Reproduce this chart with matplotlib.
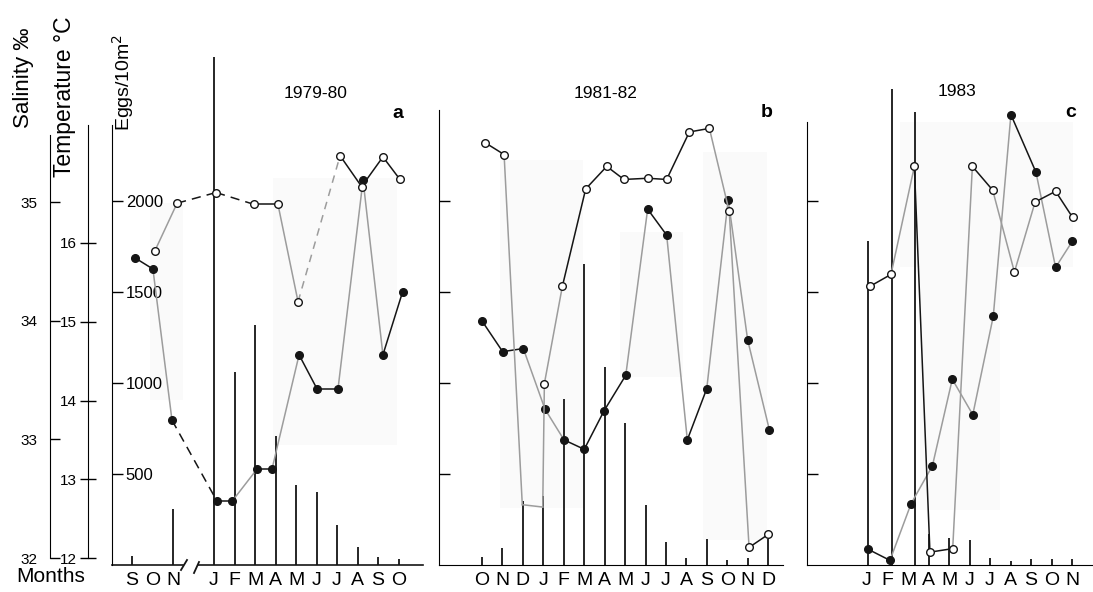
import matplotlib
matplotlib.use("Agg")
import matplotlib.pyplot as plt
from matplotlib.lines import Line2D
from matplotlib.patches import Rectangle

plt.rcParams["font.family"] = ["Liberation Sans", "DejaVu Sans"]

# ------------------------------------------------------------------ data
# a: 1979-80, month index 0 = Sep 1979 ... 13 = Oct 1980 (3 = Dec, axis break)
a_tick_x = [0, 1, 2, 4, 5, 6, 7, 8, 9, 10, 11, 12, 13]
a_months = ["S", "O", "N", "J", "F", "M", "A", "M", "J", "J", "A", "S", "O"]
a_egg_x = [0, 2, 4, 5, 6, 7, 8, 9, 10, 11, 12, 13]
a_eggs = [50, 308, 2790, 1060, 1320, 710, 440, 400, 220, 100, 45, 35]
a_temp_x = [0.15, 1.02, 1.95, 4.15, 4.88, 6.1, 6.83, 8.15, 9.02, 10.05,
            11.27, 12.24, 13.2]
a_temp = [15.81, 15.67, 13.75, 12.72, 12.72, 13.13, 13.13, 14.58, 14.15,
          14.15, 16.8, 14.58, 15.38]
a_temp_seg = "kgdkgkgkkggk"
a_sal_x = [1.12, 2.2, 4.1, 5.95, 7.12, 8.1, 10.15, 11.2, 12.24, 13.07]
a_sal = [34.59, 34.99, 35.08, 34.98, 34.98, 34.16, 35.39, 35.13, 35.38, 35.19]
a_sal_seg = "gddkgekkk"

# b: 1981-82, 0 = Oct 1981 ... 14 = Dec 1982
b_months = ["O", "N", "D", "J", "F", "M", "A", "M", "J", "J", "A", "S",
            "O", "N", "D"]
b_eggs = [44, 93, 352, 380, 913, 1654, 1088, 780, 330, 126, 38, 143, 27,
          40, 145]
b_temp_x = [0, 1.01, 2.02, 3.08, 4.01, 5.0, 5.97, 7.03, 8.1, 9.03, 10.04,
            10.99, 12.04, 12.99, 14.05]
b_temp = [15.01, 14.62, 14.66, 13.89, 13.50, 13.38, 13.87, 14.32, 16.43,
          16.10, 13.50, 14.15, 16.55, 14.77, 13.63]
b_temp_seg = "kkggkkkgkgkggg"
b_sal_x = [0.15, 1.08, 1.97, 2.97, 3.05, 3.93, 5.07, 6.1, 6.94, 8.1, 9.03,
           10.14, 11.12, 12.09, 13.06, 14.0]
b_sal = [35.50, 35.40, 32.45, 32.43, 33.47, 34.29, 35.11, 35.30, 35.19,
         35.20, 35.19, 35.59, 35.62, 34.92, 32.09, 32.20]
b_sal_seg = "kggggkkkkkkkggk"
b_sal_hidden = [2, 3]

# c: 1983, 0 = Jan ... 10 = Nov
c_months = ["J", "F", "M", "A", "M", "J", "J", "A", "S", "O", "N"]
c_egg_x = [0.05, 1.22, 2.34, 3, 4, 5, 6, 7, 8, 9, 10]
c_eggs = [1780, 2615, 2490, 170, 148, 137, 40, 22, 33, 33, 33]
c_temp_x = [0.06, 1.12, 2.15, 3.19, 4.16, 5.16, 6.16, 7.02, 8.24, 9.2, 10.01]
c_temp = [12.11, 11.97, 12.69, 13.17, 14.27, 13.82, 15.07, 17.63, 16.90,
          15.69, 16.02]
c_temp_seg = "kggggggkgg"
c_sal_x = [0.15, 1.17, 2.31, 3.07, 4.18, 5.14, 6.13, 7.19, 8.2, 9.2, 10.03]
c_sal = [34.29, 34.39, 35.30, 32.05, 32.08, 35.30, 35.10, 34.41, 35.0,
         35.09, 34.87]
c_sal_seg = "kgkkgkggkk"

# ---------------------------------------------------------------- layout
W, H = 1093, 592
fig = plt.figure(figsize=(W / 100, H / 100), dpi=100)


def fx(x):
    return x / W


def fy(y):
    return 1 - y / H


Y_TOP, Y_BOT = 50, 565
EGG_PX = 0.182


def t_of(y):
    return 16 + (243 - y) / 78.75


def s_of(y):
    return 35 + (202 - y) / 118.7


EGG_LIM = (0, (Y_BOT - Y_TOP) / EGG_PX)
T_LIM = (t_of(Y_BOT), t_of(Y_TOP))
S_LIM = (s_of(Y_BOT), s_of(Y_TOP))
BLACK, GREY = "#151515", "#9c9c9c"
SEG = {"k": (BLACK, "-"), "g": (GREY, "-"),
       "d": (BLACK, (0, (6, 4))), "e": (GREY, (0, (5, 4)))}


def axes_px(x0, x1):
    ax = fig.add_axes([fx(x0), fy(Y_BOT), fx(x1 - x0), (Y_BOT - Y_TOP) / H])
    ax.patch.set_visible(False)
    return ax


def box(x0, y0, x1, y1):
    fig.add_artist(Rectangle((fx(x0), fy(y1)), fx(x1 - x0), (y1 - y0) / H,
                             transform=fig.transFigure, color="#fafafa",
                             lw=0, zorder=-5))


def series(ax, xs, ys, seg, filled, hidden=()):
    for i, c in enumerate(seg):
        col, ls = SEG[c]
        ax.plot(xs[i:i + 2], ys[i:i + 2], color=col, ls=ls, lw=1.1, zorder=2)
    keep = [i for i in range(len(xs)) if i not in hidden]
    ax.plot([xs[i] for i in keep], [ys[i] for i in keep], "o", ls="none",
            ms=5.5, mfc=BLACK if filled else "white", mec=BLACK, mew=1.0,
            zorder=3)


def panel(x0, x1, xlim, top, ticks, labels, egg_x, eggs, temp, sal):
    ax = axes_px(x0, x1)
    ax.set_xlim(xlim)
    ax.set_ylim(EGG_LIM)
    ax.spines[["top", "right"]].set_visible(False)
    ax.spines["left"].set_bounds(0, (Y_BOT - top) / EGG_PX)
    ax.set_yticks([500, 1000, 1500, 2000])
    ax.tick_params(axis="y", direction="in", length=8, width=1,
                   labelleft=False)
    ax.set_xticks(ticks)
    ax.set_xticklabels(labels, fontsize=14)
    ax.tick_params(axis="x", length=0, pad=5)
    ax.vlines(egg_x, 0, eggs, colors=BLACK, lw=1.3, zorder=1)
    at = ax.twinx()
    at.set_ylim(T_LIM)
    at.axis("off")
    series(at, *temp, filled=True)
    asl = ax.twinx()
    asl.set_ylim(S_LIM)
    asl.axis("off")
    series(asl, *sal[:3], filled=False, hidden=sal[3] if len(sal) > 3 else ())
    return ax


# faint grey patches of the scanned original
for r in [(150, 203, 183, 400), (273, 178, 397, 445), (500, 160, 583, 508),
          (620, 232, 683, 377), (703, 152, 767, 540), (900, 122, 1073, 267),
          (920, 267, 1000, 510)]:
    box(*r)

# panel a
ax_a = panel(112, 423, (-0.976, 14.195), 125, a_tick_x, a_months,
             a_egg_x, a_eggs, (a_temp_x, a_temp, a_temp_seg),
             (a_sal_x, a_sal, a_sal_seg))
ax_a.spines["bottom"].set_visible(False)
ax_a.axhline(0, 0, 0.228, color=BLACK, lw=1.2, clip_on=False)
ax_a.axhline(0, 0.2765, 1, color=BLACK, lw=1.2, clip_on=False)
ax_a.tick_params(axis="y", labelleft=True, labelsize=12, pad=-10)
for lab in ax_a.get_yticklabels():
    lab.set_ha("left")
for bx in [(181, 187, 570, 560), (194, 199, 573, 562)]:
    fig.add_artist(Line2D([fx(bx[0]), fx(bx[1])], [fy(bx[2]), fy(bx[3])],
                          color=BLACK, lw=1.3))

# panel b
panel(439, 783, (-2.103, 14.719), 110, list(range(15)), b_months,
      list(range(15)), b_eggs, (b_temp_x, b_temp, b_temp_seg),
      (b_sal_x, b_sal, b_sal_seg, b_sal_hidden))

# panel c
panel(807, 1093, (-2.927, 11.024), 122, list(range(11)), c_months,
      c_egg_x, c_eggs, (c_temp_x, c_temp, c_temp_seg),
      (c_sal_x, c_sal, c_sal_seg))

# salinity and temperature scales
ax_s = axes_px(50, 51)
ax_s.set_ylim(S_LIM)
ax_s.set_xticks([])
ax_s.spines[["top", "right", "bottom"]].set_visible(False)
ax_s.spines["left"].set_bounds(32, s_of(135))
ax_s.set_yticks([32, 33, 34, 35])
ax_s.tick_params(axis="y", direction="in", length=7, width=1, pad=9,
                 labelsize=11)

ax_t = axes_px(88, 89)
ax_t.set_ylim(T_LIM)
ax_t.set_xticks([])
ax_t.spines[["top", "right", "bottom"]].set_visible(False)
ax_t.spines["left"].set_bounds(12, t_of(125))
ax_t.set_yticks([12, 13, 14, 15, 16])
ax_t.tick_params(axis="y", direction="inout", length=12, width=1, pad=2,
                 labelsize=11)

# texts
fig.text(fx(24), fy(78), "Salinity ‰", rotation=90, ha="center",
         va="center", fontsize=16)
fig.text(fx(64), fy(97), "Temperature °C", rotation=90, ha="center",
         va="center", fontsize=16.5)
fig.text(fx(123), fy(82), "Eggs/10m$^2$", rotation=90, ha="center",
         va="center", fontsize=14)
fig.text(fx(51), fy(577), "Months", ha="center", va="center", fontsize=15)
for x, y, s in [(316, 93, "1979-80"), (606, 93, "1981-82"), (957, 92, "1983")]:
    fig.text(fx(x), fy(y), s, ha="center", va="center", fontsize=12.5)
for x, y, s in [(398, 113, "a"), (767, 112, "b"), (1071, 112, "c")]:
    fig.text(fx(x), fy(y), s, ha="center", va="center", fontsize=14,
             fontweight="bold")

fig.savefig("out.png", dpi=100)
